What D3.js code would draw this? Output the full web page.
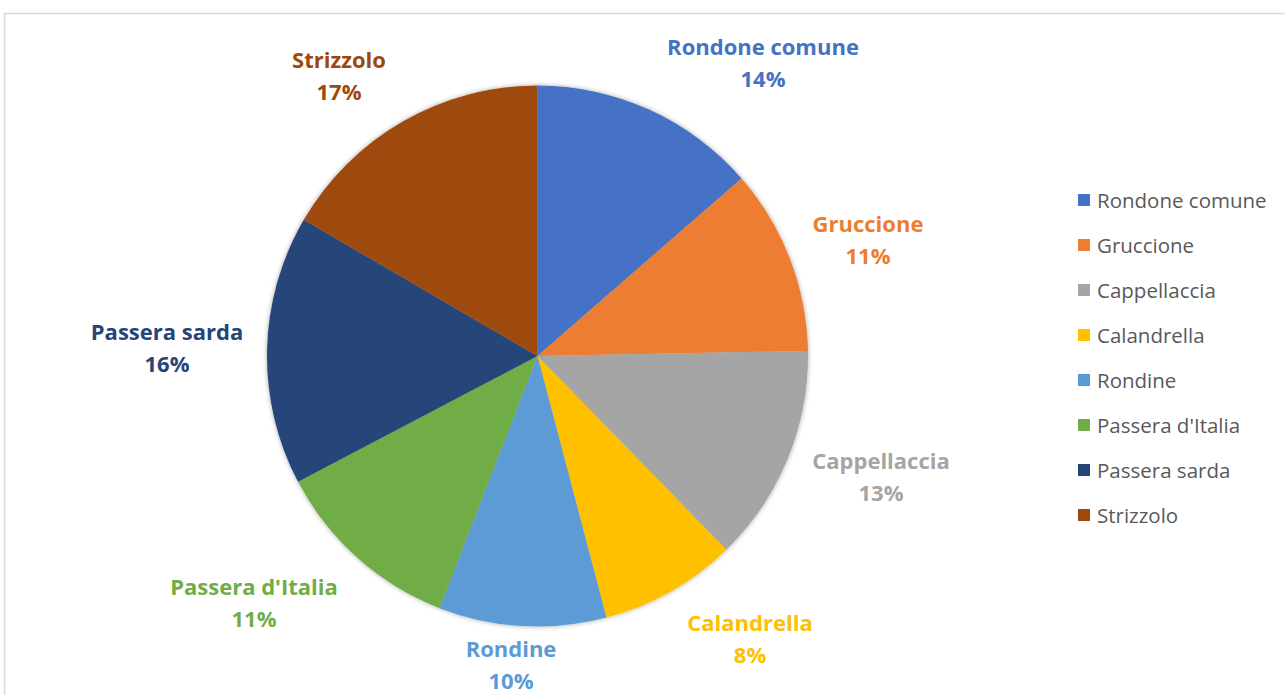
<!DOCTYPE html>
<html>
<head>
<meta charset="utf-8">
<script src="https://cdn.jsdelivr.net/npm/d3@7"></script>
<style>
  html, body { margin: 0; padding: 0; background: #fff; }
  svg { display: block; }
</style>
</head>
<body>
<svg id="chart" width="1285" height="695"></svg>
<script>
// Species share (%) of observations
const species = ["Rondone comune", "Gruccione", "Cappellaccia", "Calandrella",
                 "Rondine", "Passera d'Italia", "Passera sarda", "Strizzolo"];
const shares = [13.6, 11.1, 13.0, 8.2, 10.0, 11.4, 16.1, 16.6];
const colors = ["#4472c4", "#ed7d31", "#a5a5a5", "#ffc000",
                "#5b9bd5", "#70ad47", "#264478", "#9e480e"];

const W = 1285, H = 695;
const cx = 537.5, cy = 356, R = 270.5;

const svg = d3.select("#chart");

// chart frame
svg.append("rect")
  .attr("x", 4.5).attr("y", 13.5)
  .attr("width", W + 10).attr("height", H + 10)
  .attr("fill", "#fff")
  .attr("stroke", "#d9d9d9").attr("stroke-width", 1.5);

// soft shadow under the pie
const defs = svg.append("defs");
const f = defs.append("filter").attr("id", "pieShadow")
  .attr("x", "-10%").attr("y", "-10%").attr("width", "120%").attr("height", "120%");
f.append("feGaussianBlur").attr("in", "SourceAlpha").attr("stdDeviation", 2.5).attr("result", "b");
f.append("feComponentTransfer").attr("in", "b").attr("result", "s")
  .append("feFuncA").attr("type", "linear").attr("slope", 0.35);
const m = f.append("feMerge");
m.append("feMergeNode").attr("in", "s");
m.append("feMergeNode").attr("in", "SourceGraphic");

const data = species.map((name, i) => ({ name, value: shares[i], color: colors[i] }));
const pie = d3.pie().value(d => d.value).sort(null);
const arcs = pie(data);
const arc = d3.arc().innerRadius(0).outerRadius(R);

const g = svg.append("g").attr("transform", `translate(${cx},${cy})`);
g.append("g").attr("filter", "url(#pieShadow)")
  .selectAll("path").data(arcs).join("path")
  .attr("d", arc)
  .attr("fill", d => d.data.color)
  .attr("stroke", "none");

// data labels: name + rounded percentage, anchored at the name's baseline
const pct = d3.format(".0f");
const labelPos = [[763, 55], [868, 232], [881, 469], [750, 631],
                  [511, 657], [254, 595], [167, 340], [339, 68]];
const lg = svg.append("g");
arcs.forEach((a, i) => {
  const [x, y] = labelPos[i];
  const t = lg.append("text")
    .attr("text-anchor", "middle")
    .attr("fill", a.data.color)
    .style("font-family", "'Open Sans', sans-serif")
    .style("font-weight", "bold")
    .style("font-size", "22px");
  t.append("tspan").attr("x", x).attr("y", y).text(a.data.name);
  t.append("tspan").attr("x", x).attr("y", y + 32).text(pct(a.data.value) + "%");
});

// legend
const legend = svg.append("g").attr("transform", "translate(1078,194)");
const rowStep = 45;
const items = legend.selectAll("g").data(data).join("g")
  .attr("transform", (d, i) => `translate(0,${i * rowStep})`);
items.append("rect")
  .attr("x", 0).attr("y", 0).attr("width", 12).attr("height", 12)
  .attr("fill", d => d.color);
items.append("text")
  .attr("x", 19).attr("y", 13.5)
  .attr("fill", "#595959")
  .style("font-family", "'Open Sans', sans-serif")
  .style("font-size", "20.5px")
  .text(d => d.name);
</script>
</body>
</html>
